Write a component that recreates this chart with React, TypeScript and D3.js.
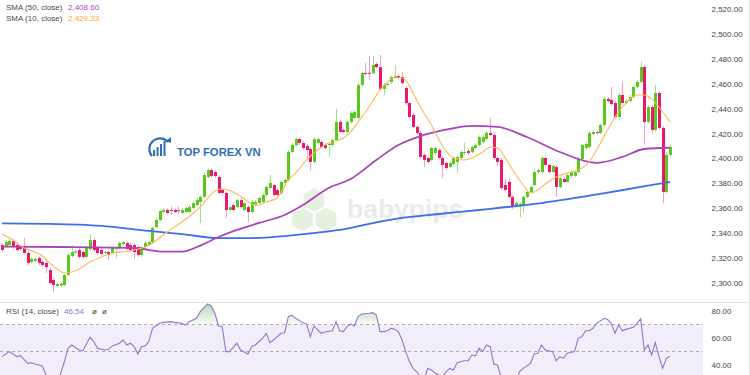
import { useEffect } from "react";
import * as d3 from "d3";

// candles: [open, high, low, close]
const ohlc: [number, number, number, number][] = [
  [2330.5,2332,2325,2326.5],[2329.7,2334,2328.5,2332.9],[2330.5,2336.1,2329.5,2333.7],[2333.7,2335,2327.5,2328.9],[2330.5,2332,2325,2326.5],
  [2328.9,2330,2326,2327.3],[2328.9,2336.1,2323,2324.1],[2324.1,2325.5,2314.5,2316.1],[2316.9,2321,2315.5,2319.3],[2317.7,2320.5,2316.5,2319.3],
  [2320.1,2321.5,2314.5,2316.1],[2316.9,2318,2313,2314.5],[2316.1,2319,2308,2312.8],[2310.4,2312,2298.5,2300],[2302.4,2304,2292.8,2298.4],
  [2297.6,2300.5,2296.5,2299.2],[2298,2301,2297,2299.5],[2298.4,2307.5,2297.5,2306.4],[2306.4,2324,2305,2322.5],[2321.7,2330.5,2320.5,2324.9],
  [2324.5,2327,2323.5,2325.5],[2326.5,2328,2319.5,2320.9],[2324.9,2326,2319.5,2320.9],[2320.9,2329.5,2319.5,2328.1],[2327.3,2339.3,2326,2334.5],
  [2334.5,2336,2325,2326.5],[2328.9,2330,2322.5,2324.1],[2326.5,2328,2322,2323.3],[2324.1,2326,2323,2324.9],[2324.9,2326,2318.5,2322.5],
  [2324.1,2329.5,2323,2328.1],[2327.3,2329.5,2320.1,2328.1],[2328.1,2333.5,2327,2332.1],[2331.3,2334,2330,2332.9],[2332.1,2333.5,2326,2327.3],
  [2330.5,2332,2325,2326.5],[2330.5,2332,2319.3,2324.9],[2328.9,2330,2321,2322.5],[2322.5,2330,2321,2328.9],[2328.9,2333.5,2327.5,2332.1],
  [2330.5,2334,2329.5,2332.9],[2332.9,2345.5,2331.5,2344.2],[2345,2352,2344,2350.6],[2350.6,2359,2349.5,2357.8],[2357,2360,2356,2358.6],
  [2358.6,2360,2355,2356.2],[2358.6,2361.5,2355,2357.8],[2358.6,2360,2356,2357],[2358.4,2361.5,2355.5,2357.8],[2356.2,2360,2355,2358.6],
  [2357,2361.5,2356,2360.2],[2357,2362.5,2356,2361],[2360.2,2365.5,2359,2364.2],[2362.6,2368,2361.5,2366.6],[2365,2370.5,2348.2,2369.1],
  [2369.1,2388,2368,2386.7],[2385.1,2392,2384,2390.7],[2390.7,2392,2384.5,2385.9],[2389.1,2390.5,2384.5,2385.9],[2385.1,2386.5,2371,2372.3],
  [2374.7,2376,2371,2372.3],[2372.3,2373.5,2352.2,2358.6],[2358.6,2362.5,2357.5,2361],[2362.6,2364,2357.5,2358.6],[2361,2368,2360,2366.6],
  [2366.6,2368,2360,2361],[2358.6,2365.5,2357.5,2364.2],[2361,2362.5,2349,2357],[2357,2366.5,2356,2365],[2362.6,2366.5,2361.5,2365],
  [2364.2,2369.5,2363,2368.3],[2365,2372,2364,2370.7],[2370.7,2378.5,2369.5,2377.1],[2376.3,2386.7,2375,2380.3],[2378.7,2380,2369.5,2370.7],
  [2374.7,2376,2369.5,2370.7],[2372.3,2382.5,2371,2381.1],[2380.3,2384,2379,2382.7],[2382.7,2406.5,2381.5,2405.2],[2405.2,2412,2404,2410.8],
  [2410.8,2417,2409.5,2415.6],[2415.6,2417,2411,2412.4],[2412.4,2414,2407,2408.4],[2410,2411.5,2400.4,2406.8],[2407.6,2409,2390.7,2397.2],
  [2397.2,2417,2396,2415.6],[2412.4,2417.2,2411,2415.6],[2413.2,2414.5,2408,2409.2],[2410.8,2412,2407,2408.4],[2410.8,2413,2401.2,2411.6],
  [2410.8,2416,2409.5,2414.8],[2414.8,2439.7,2413.5,2429.3],[2429.3,2430.5,2420,2421.3],[2422.9,2424,2420,2421.3],[2421.3,2430.5,2420,2429.3],
  [2429.3,2438,2428,2436.5],[2432.5,2438.5,2431.5,2437.3],[2432.5,2460.5,2431.5,2459],[2459,2470,2458,2468.6],[2468.6,2476.7,2466.5,2467.8],
  [2468.8,2482.3,2463,2468.2],[2468.6,2482.3,2467.5,2475.1],[2475.9,2477,2472,2473.4],[2473.4,2483.1,2454.5,2455.8],[2455.8,2460.5,2451,2459],
  [2459,2461,2458,2459.8],[2461.4,2466.5,2460,2465.4],[2464.6,2475.1,2463.5,2466.2],[2466.2,2467.5,2463.5,2464.6],[2465.4,2469.4,2459.5,2460.6],
  [2456.6,2458,2443,2444.5],[2444.5,2446,2432,2433.3],[2434.9,2436.5,2424,2425.3],[2425.3,2426.5,2419,2420.5],[2420.5,2422,2400,2401.2],
  [2402.8,2404,2393.1,2398.8],[2400.4,2401.5,2396,2397.2],[2398.8,2409.5,2397.5,2408.4],[2404.4,2409.5,2403,2408.4],[2406.8,2408,2399,2400.4],
  [2400.4,2402,2384.3,2394.8],[2396.4,2397.5,2391,2392.3],[2393.1,2397.5,2392,2396.4],[2395.6,2401.5,2394.5,2400.4],[2397.2,2402.5,2388.3,2401.2],
  [2400.4,2406.5,2399,2405.2],[2404.4,2412.4,2403,2405.2],[2406,2407.5,2403,2404.4],[2405.2,2410.5,2404,2409.2],[2408.4,2412,2407,2410.8],
  [2410.8,2418.5,2409.5,2417.2],[2413.2,2418.5,2412,2417.2],[2415.6,2422,2414.5,2420.5],[2420.5,2432.5,2417.5,2418.8],[2418.8,2420,2399,2400.4],
  [2400.4,2401.5,2394,2397.2],[2398.8,2400,2375,2376.3],[2378.7,2383.5,2373.5,2374.7],[2381.1,2384.3,2368,2369.1],[2369.1,2370.5,2359.5,2361],
  [2361.8,2365.5,2360.5,2364.2],[2362.6,2365,2353,2363.4],[2362.6,2370.5,2356.2,2369.1],[2369.1,2374.5,2368,2373.1],[2373.1,2378.5,2372,2377.1],
  [2378.7,2390.5,2377.5,2389.1],[2389.1,2392,2388,2390.7],[2389.1,2401.5,2388,2400.4],[2400.4,2401.5,2393.5,2394.8],[2394.8,2396,2388,2389.1],
  [2389.1,2395.5,2388,2394],[2393.1,2394.5,2369.1,2377.1],[2377.1,2385.5,2376,2384.3],[2383.5,2385,2380,2381.1],[2381.1,2388,2380,2386.7],
  [2385.9,2390.5,2384.5,2389.1],[2386,2390.5,2385,2389],[2389.1,2401,2388,2399.6],[2399.6,2412,2398.5,2410.8],[2408.4,2413,2407,2411.6],
  [2409.2,2422,2408,2420.5],[2419.6,2422.5,2418.5,2421.3],[2421.3,2422.5,2419.5,2420.5],[2420.5,2428,2419.5,2426.9],[2426.9,2449,2425.5,2447.8],
  [2447.8,2449.4,2445,2446.1],[2447,2457.4,2442.5,2443.7],[2444.5,2446,2432,2433.3],[2433.3,2452.5,2432,2451],[2451,2461.4,2443,2444.5],
  [2444.5,2447.5,2443.5,2446.1],[2446.1,2451,2445,2449.4],[2449.4,2459,2448,2457.4],[2457.4,2463,2456,2461.4],[2461.4,2477.5,2460,2473.4],
  [2473.4,2475,2410.8,2429.3],[2429.3,2443,2428,2441.3],[2441.3,2443,2420.5,2422.9],[2422.9,2459,2421.5,2452.6],[2452.6,2454,2423,2424.5],
  [2424.5,2426,2364.2,2373.1],[2373.1,2404.5,2372,2402.8],[2402.8,2410.8,2401.5,2409.2],
];

// [candle index, value]
const sma10: [number, number][] = [
  [0,2339.3],[3,2334.5],[6,2328.1],[9,2324.9],[11,2321.7],[13,2316.1],[15,2311.2],[17,2308],[19,2308.8],[21,2311.2],
  [24,2316.9],[27,2320.9],[30,2324.1],[33,2324.9],[36,2326.5],[39,2328.9],[41,2332.1],[45,2341],[49,2349],[54,2361],
  [58,2373.9],[60,2375.5],[63,2373.1],[66,2367.5],[68,2363.4],[70,2362.6],[72,2365],[75,2368.3],[78,2382.7],[80,2388.3],
  [83,2398.8],[86,2406.8],[89,2412.4],[93,2416.4],[95,2421.3],[97,2429.3],[100,2441.3],[103,2455],[105,2461.4],[107,2465.4],
  [109,2464.6],[111,2458.5],[112,2452.6],[114,2441.3],[116,2431.7],[117,2426.9],[120,2410],[123,2400.4],[126,2398.8],[128,2400.4],
  [131,2405.2],[133,2409.2],[135,2408.4],[137,2401.2],[139,2391.5],[142,2378.7],[144,2372.3],[146,2374.7],[148,2379.5],[151,2385.1],
  [154,2388.3],[157,2390.7],[160,2397.2],[162,2406.8],[165,2422.9],[167,2433.3],[170,2444.5],[173,2451],[175,2451],[177,2447.8],
  [179,2441.3],[182,2429.33],
];

const sma50: [number, number][] = [
  [0,2329.2],[16,2328.9],[36,2328.1],[44,2325.2],[49,2325.2],[54,2330],[59,2336.9],[64,2342.6],[70,2348.2],[77,2354.6],
  [82,2362.6],[89,2376.3],[95,2383.5],[102,2398.8],[108,2410.8],[114,2418],[122,2423.7],[128,2426.1],[135,2425.3],[143,2417.2],
  [152,2405.2],[162,2396.4],[169,2401.2],[175,2407.6],[182,2408.6],
];

const smaLong: [number, number][] = [
  [0,2347.8],[13,2347.4],[27,2345.8],[40,2341.8],[49,2339.3],[59,2336.1],[68,2336.1],[77,2337.7],[84,2339.8],[92,2342.6],
  [100,2347.4],[108,2351.8],[119,2355.4],[130,2358.6],[147,2364.2],[163,2371.5],[174,2377.1],[182,2381.1],
];

const rsi: [number, number][] = [
  [0,46.2],[2,49.9],[3,48.2],[4,46.2],[5,46.9],[7,41.2],[8,41.7],[9,40.7],[11,39.3],[12,32.6],[13,28],[14,26],[15,27],[16,33.8],
  [17,42.5],[18,52.4],[19,54.8],[21,51.1],[22,50.6],[24,60.5],[25,57.3],[26,52.4],[28,51.1],[29,51.6],[30,54.1],[32,56.1],
  [33,58.5],[34,54.8],[35,56.1],[36,53.6],[37,48.2],[38,53.6],[39,54.1],[40,57.3],[41,67.2],[43,70.9],[44,71.6],[46,72.1],
  [47,71.6],[49,70.9],[50,69.6],[51,72.1],[53,74.6],[54,79.5],[56,85.2],[57,83.7],[58,78.3],[59,68.9],[60,68.4],[61,49.9],
  [62,49.9],[64,56.1],[65,51.1],[67,48.2],[68,53.6],[69,54.8],[71,59.8],[72,63.5],[73,56.6],[74,58.5],[76,63.5],[77,63.9],
  [78,75.8],[79,77],[80,74.6],[82,71.4],[83,70.1],[84,61],[85,68.9],[86,65.9],[87,63.5],[88,64.5],[90,65.4],[91,72.1],
  [92,65.4],[93,64.7],[94,68.4],[95,70.4],[96,68.9],[97,75.8],[98,77.8],[100,78.3],[101,78.8],[102,77],[103,64.7],[104,64.7],
  [105,65.4],[106,67.2],[107,66.4],[108,64.7],[109,58.5],[110,49.9],[111,42.5],[112,37.5],[113,35],[114,31],[115,29],[116,37.5],
  [117,36.3],[118,34],[119,32.6],[120,31],[121,35.1],[122,37.5],[123,36.3],[124,41.7],[126,43.2],[127,43.2],[128,47.4],[129,46.7],
  [130,52.4],[131,49.9],[132,54.8],[133,53.6],[134,40.7],[135,40],[136,31],[137,28],[138,25],[139,22],[140,26],[141,35.1],
  [142,37.5],[144,41.2],[145,48.2],[146,48.7],[147,54.8],[148,51.1],[150,49.9],[151,43.2],[152,46.2],[153,44.9],[154,48.7],
  [156,49.9],[157,59.8],[158,61],[159,65.4],[160,65.4],[161,67.2],[162,70.9],[164,74.6],[165,73.8],[166,70.9],[167,63.5],
  [168,69.6],[169,65.4],[170,66.4],[172,67.9],[173,70.9],[174,74.3],[175,51.1],[176,54.8],[177,47.4],[178,56.6],[179,46.2],
  [180,37.5],[181,44.9],[182,46.54],
];

const priceTicks = [2300, 2320, 2340, 2360, 2380, 2400, 2420, 2440, 2460, 2480, 2500, 2520];
const rsiTicks = [40, 60, 80];
const rsiBands = [70, 50];

const UP = "#5bc81f", DOWN = "#e8196b";
const UP_WICK = "#a9de8c", DOWN_WICK = "#f5a1c1";
const FONT = "'Liberation Sans', Arial, sans-serif";

export default function App() {
  useEffect(() => { document.body.style.margin = "0"; }, []);

  const plotR = 703, sep = 302;
  const x = d3.scaleLinear().domain([0, ohlc.length - 1]).range([2, 670]);
  const y = d3.scaleLinear().domain([2300, 2520]).range([283, 9]);
  const yr = d3.scaleLinear().domain([40, 80]).range([365, 311]);
  const fmt = d3.format(",.2f");

  const smooth = d3.line<[number, number]>().x(d => x(d[0])).y(d => y(d[1])).curve(d3.curveMonotoneX);
  const rsiLine = d3.line<[number, number]>().x(d => x(d[0])).y(d => yr(d[1]));
  const rsiArea = d3.area<[number, number]>().x(d => x(d[0])).y0(yr(70)).y1(d => yr(d[1]));

  const hex = (cx: number, cy: number, r: number) =>
    d3.range(6).map(k => {
      const a = Math.PI / 3 * k - Math.PI / 2;
      return `${cx + r * Math.cos(a)},${cy + r * Math.sin(a)}`;
    }).join(" ");

  return (
    <svg width={750} height={375} style={{ display: "block", background: "#fff", fontFamily: FONT }}>
      <defs>
        <clipPath id="mainClip"><rect x={0} y={0} width={plotR} height={sep} /></clipPath>
        <clipPath id="rsiClip"><rect x={0} y={sep + 1} width={plotR} height={375 - sep} /></clipPath>
        <clipPath id="obClip"><rect x={0} y={sep} width={plotR} height={yr(70) - sep} /></clipPath>
        <linearGradient id="obGrad" gradientUnits="userSpaceOnUse" x1={0} y1={yr(86)} x2={0} y2={yr(70)}>
          <stop offset="0" stopColor="#4caf50" stopOpacity={0.45} />
          <stop offset="1" stopColor="#4caf50" stopOpacity={0.04} />
        </linearGradient>
      </defs>

      {/* watermarks */}
      <g>
        <polygon points={hex(314, 200, 12)} fill="#e5f1df" />
        <polygon points={hex(302.5, 219.5, 12)} fill="#e5f1df" />
        <polygon points={hex(326, 219.5, 12)} fill="#e5f1df" />
      </g>
      <text x={347} y={218} fontSize={26.5} fontWeight="bold" fill="#ebebeb">babypips</text>
      <g>
        <path d="M152,156 A10,10 0 1,1 168,142" fill="none" stroke="#2f6db5" strokeWidth={2.2} />
        <rect x={153} y={150} width={2} height={6} fill="#2f6db5" />
        <rect x={156.5} y={147} width={2} height={9} fill="#2f6db5" />
        <rect x={160} y={144} width={2} height={12} fill="#2f6db5" />
        <rect x={163.5} y={141} width={2} height={15} fill="#2f6db5" />
        <path d="M166,141 L171,137 L171,143 Z" fill="#2f6db5" />
        <text x={177} y={156} fontSize={11.3} fontWeight="bold" fill="#2f6db5">TOP FOREX VN</text>
      </g>

      {/* candles */}
      <g clipPath="url(#mainClip)">
        {ohlc.map(([o, h, l, c], i) => {
          const up = c >= o;
          const cx = Math.round(x(i));
          const top = y(Math.max(o, c)), bot = y(Math.min(o, c));
          return (
            <g key={i}>
              <line x1={cx + 0.5} x2={cx + 0.5} y1={y(h)} y2={y(l)} stroke={up ? UP_WICK : DOWN_WICK} strokeWidth={1} />
              <rect x={cx - 1} y={top} width={3} height={Math.max(1, bot - top)} fill={up ? UP : DOWN} />
            </g>
          );
        })}
        <path d={smooth(smaLong) ?? ""} fill="none" stroke="#3d6ef0" strokeWidth={1.8} />
        <path d={smooth(sma50) ?? ""} fill="none" stroke="#a845bb" strokeWidth={1.8} />
        <path d={smooth(sma10) ?? ""} fill="none" stroke="#ffb65a" strokeWidth={1.1} />
      </g>

      {/* legend */}
      <text x={6} y={9.5} fontSize={8} fill="#4a4a4a">SMA (50, close)</text>
      <text x={68} y={9.5} fontSize={8} fill="#ab47bc">{fmt(sma50[sma50.length - 1][1])}</text>
      <text x={6} y={20.5} fontSize={8} fill="#4a4a4a">SMA (10, close)</text>
      <text x={68} y={20.5} fontSize={8} fill="#ffa726">{fmt(sma10[sma10.length - 1][1])}</text>

      {/* price axis */}
      {priceTicks.map(t => (
        <text key={t} x={711.5} y={y(t) + 3} fontSize={8} fill="#444">{fmt(t)}</text>
      ))}

      {/* separators */}
      <line x1={0} x2={750} y1={sep + 0.5} y2={sep + 0.5} stroke="#e0e3eb" />
      <line x1={749.5} x2={749.5} y1={0} y2={375} stroke="#e0e3eb" />

      {/* RSI pane */}
      <g clipPath="url(#rsiClip)">
        <rect x={0} y={yr(70)} width={plotR} height={yr(30) - yr(70)} fill="#7e57c2" fillOpacity={0.1} />
        {rsiBands.map(b => (
          <line key={b} x1={0} x2={plotR} y1={yr(b)} y2={yr(b)} stroke="#9a9a9a" strokeDasharray="3,3" strokeWidth={0.8} />
        ))}
        <g clipPath="url(#obClip)">
          <path d={rsiArea(rsi) ?? ""} fill="url(#obGrad)" />
        </g>
        <path d={rsiLine(rsi) ?? ""} fill="none" stroke="#9575cd" strokeWidth={1.1} />
      </g>
      <text x={6} y={314} fontSize={8} fill="#4a4a4a">RSI (14, close)</text>
      <text x={64} y={314} fontSize={8} fill="#9575cd">{rsi[rsi.length - 1][1].toFixed(2)}</text>
      <text x={92} y={314} fontSize={8} fill="#4a4a4a">ø</text>
      <text x={102} y={314} fontSize={8} fill="#4a4a4a">ø</text>
      {rsiTicks.map(t => (
        <text key={t} x={711.5} y={yr(t) + 3} fontSize={8} fill="#444">{fmt(t)}</text>
      ))}
    </svg>
  );
}
